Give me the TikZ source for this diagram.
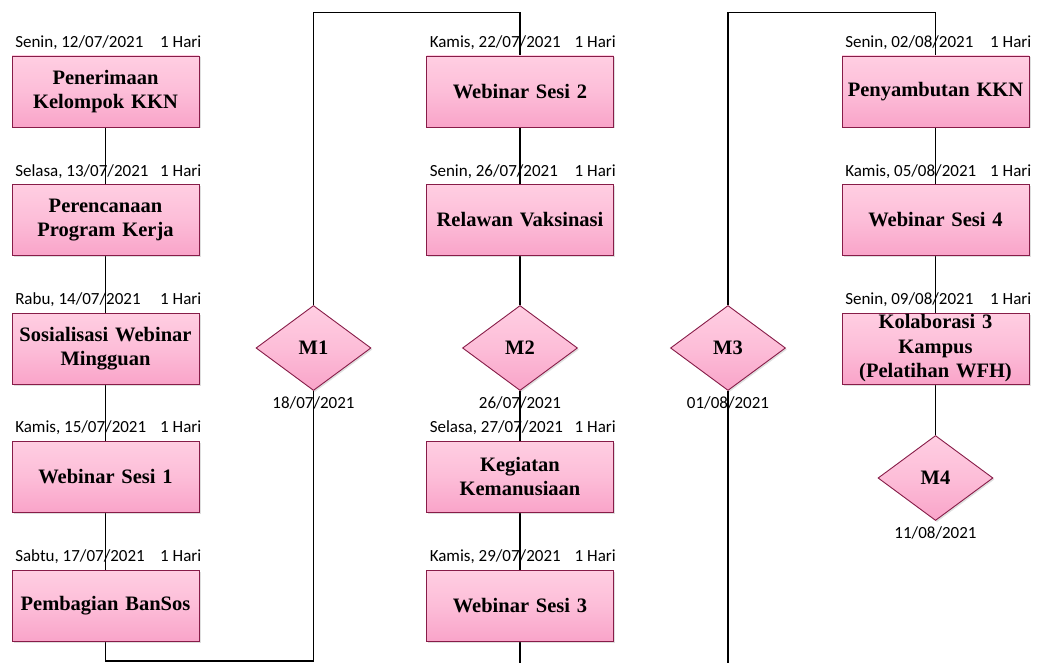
\documentclass[tikz,border=0pt]{standalone}
\usepackage{fontspec}
\setmainfont{Liberation Serif}
\newfontfamily\labfont{Carlito}
\usetikzlibrary{shapes.geometric,shadows,backgrounds,calc}

\definecolor{boxtop}{RGB}{255,206,226}
\definecolor{boxbot}{RGB}{249,164,201}
\definecolor{boxedge}{RGB}{135,28,72}

\tikzset{
  task/.style={rectangle, draw=boxedge, line width=0.9pt,
    top color=boxtop, bottom color=boxbot, middle color=boxtop!60!boxbot,
    minimum width=187pt, minimum height=71pt, inner sep=0pt,
    align=center, text width=186pt,
    font=\bfseries\fontsize{20.5}{24.5}\selectfont,
    drop shadow={shadow xshift=1.5pt, shadow yshift=-1.5pt, opacity=0.25}},
  milestone/.style={diamond, draw=boxedge, line width=0.9pt,
    top color=boxtop, bottom color=boxbot, middle color=boxtop!60!boxbot,
    minimum width=115pt, minimum height=85pt, inner sep=0pt,
    font=\bfseries\fontsize{20.5}{24.5}\selectfont,
    drop shadow={shadow xshift=1.5pt, shadow yshift=-1.5pt, opacity=0.25}},
  datelab/.style={font=\labfont\fontsize{17}{20}\selectfont, inner sep=0pt, anchor=base west},
  daylab/.style={font=\labfont\fontsize{17}{20}\selectfont, inner sep=0pt, anchor=base east},
  mslab/.style={font=\labfont\fontsize{17}{20}\selectfont, inner sep=0pt, anchor=base},
  link/.style={draw=black, line width=1.3pt}
}

% date on the left, duration on the right, just above a task box
\newcommand{\tasklabel}[2]{%
  \node[datelab] (#1-d) at ($(#1.north west)+(3.5,-8)$) {#2};
  \node[daylab] (#1-h) at ($(#1.north east)+(2,-8)$) {1 Hari};
}

\begin{document}
\begin{tikzpicture}[x=1pt,y=-1pt]
\useasboundingbox (0,0) rectangle (1040,663);

% column 1
\node[task] (b11) at (105.5,91.5) {Penerimaan\\Kelompok KKN};
\node[task] (b12) at (105.5,220) {Perencanaan\\Program Kerja};
\node[task] (b13) at (105.5,348.5) {Sosialisasi Webinar\\Mingguan};
\node[task] (b14) at (105.5,476.5) {Webinar Sesi 1};
\node[task] (b15) at (105.5,605.5) {Pembagian BanSos};

% milestone 1
\node[milestone] (m1) at (313.5,348) {M1};

% column 2
\node[task] (b21) at (520,91.5) {Webinar Sesi 2};
\node[task] (b22) at (520,220) {Relawan Vaksinasi};
\node[milestone] (m2) at (520,348) {M2};
\node[task] (b24) at (520,476.5) {Kegiatan\\Kemanusiaan};
\node[task] (b25) at (520,605.5) {Webinar Sesi 3};

% milestone 3
\node[milestone] (m3) at (728,348) {M3};

% column 4
\node[task] (b41) at (935.5,91.5) {Penyambutan KKN};
\node[task] (b42) at (935.5,220) {Webinar Sesi 4};
\node[task] (b43) at (935.5,348.5) {Kolaborasi 3\\Kampus\\(Pelatihan WFH)};
\node[milestone] (m4) at (935.5,478) {M4};

% turning points of the connecting line
\coordinate (c1) at (105.5,661);
\coordinate (c2) at (313.5,661);
\coordinate (c3) at (313.5,12.5);
\coordinate (c4) at (520,12.5);
\coordinate (c5) at (520,664);
\coordinate (c6) at (728,664);
\coordinate (c7) at (728,12.5);
\coordinate (c8) at (935.5,12.5);

\begin{scope}[on background layer]
  \draw[link] (b11) -- (b12) -- (b13) -- (b14) -- (b15) -- (c1) -- (c2)
              -- (m1) -- (c3) -- (c4) -- (b21) -- (b22) -- (m2) -- (b24)
              -- (b25) -- (c5);
  \draw[link] (c6) -- (m3) -- (c7) -- (c8) -- (b41) -- (b42) -- (b43) -- (m4);
\end{scope}

% task labels
\tasklabel{b11}{Senin, 12/07/2021}
\tasklabel{b12}{Selasa, 13/07/2021}
\tasklabel{b13}{Rabu, 14/07/2021}
\tasklabel{b14}{Kamis, 15/07/2021}
\tasklabel{b15}{Sabtu, 17/07/2021}
\tasklabel{b21}{Kamis, 22/07/2021}
\tasklabel{b22}{Senin, 26/07/2021}
\tasklabel{b24}{Selasa, 27/07/2021}
\tasklabel{b25}{Kamis, 29/07/2021}
\tasklabel{b41}{Senin, 02/08/2021}
\tasklabel{b42}{Kamis, 05/08/2021}
\tasklabel{b43}{Senin, 09/08/2021}

% milestone dates
\node[mslab] (m1-d) at ($(m1.south)+(0,17.5)$) {18/07/2021};
\node[mslab] (m2-d) at ($(m2.south)+(0,18)$) {26/07/2021};
\node[mslab] (m3-d) at ($(m3.south)+(0,18)$) {01/08/2021};
\node[mslab] (m4-d) at ($(m4.south)+(0,18)$) {11/08/2021};
\end{tikzpicture}
\end{document}
